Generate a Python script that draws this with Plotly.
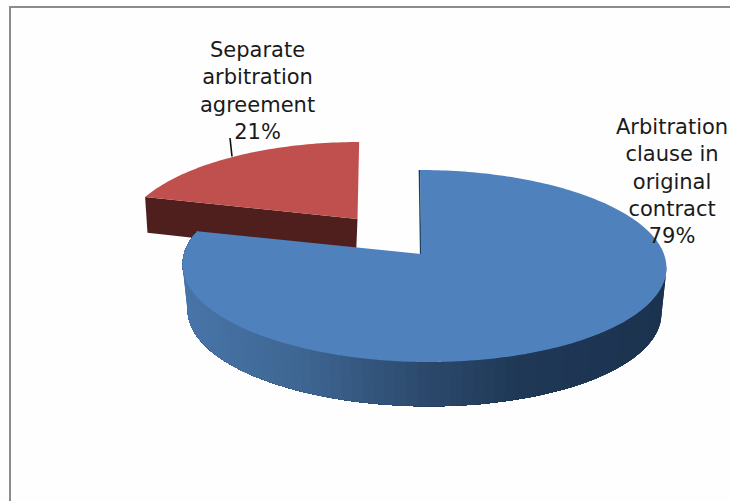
import numpy as np
import plotly.graph_objects as go

categories = ["Arbitration<br>clause in<br>original<br>contract", "Separate<br>arbitration<br>agreement"]
values = [79, 21]

W, H = 730, 501
BLUE, RED, RED_DARK = "#4f81bd", "#c0504d", "#4f1f1d"
share = values[0] / sum(values) * 2 * np.pi


def project(theta, cx, cy, rx, ry, p, a=0.0, b=0.0):
    w = 1 + p * np.cos(theta)
    return cx + a + b * np.cos(theta) / w + rx * np.sin(theta) / w, cy - ry * np.cos(theta) / w


def poly(x, y, color):
    return go.Scatter(x=list(x), y=list(y), mode="none", fill="toself", fillcolor=color,
                      hoverinfo="skip", showlegend=False)


def wall_color(x):
    stops_x = [185, 300, 420, 520, 665]
    r = np.interp(x, stops_x, [72, 62, 44, 31, 28])
    g = np.interp(x, stops_x, [116, 102, 74, 56, 51])
    b = np.interp(x, stops_x, [168, 146, 110, 85, 80])
    return f"rgb({r:.0f},{g:.0f},{b:.0f})"


fig = go.Figure()

# Red slice: detached wedge
t_red = np.linspace(share, 2 * np.pi, 60)
TOP_R = dict(cx=357.5, cy=219, rx=231, ry=92.4, p=0.2, a=0.4, b=1.5)
rx_t, ry_t = project(t_red, **TOP_R)
rx_b, ry_b = project(np.array([share]), 356, 254, 226, 90, 0.2)
fig.add_trace(poly([rx_t[0], rx_b[0], 356, 357.5, rx_t[0]],
                   [ry_t[0], ry_b[0], 256, 219, ry_t[0]], RED_DARK))
fig.add_trace(poly(np.r_[TOP_R["cx"], rx_t, TOP_R["cx"]], np.r_[TOP_R["cy"], ry_t, TOP_R["cy"]], RED))

# Leader line for the red slice
fig.add_trace(go.Scatter(x=[230, 232], y=[138, 156.5], mode="lines",
                         line=dict(color="#111111", width=1.6), hoverinfo="skip", showlegend=False))

# Blue slice: shaded side wall, painted so each band overlaps the next
TOP_B = dict(cx=421, cy=254, rx=240, ry=94.5, p=0.125, a=2.94, b=-4.43)
BOT_B = dict(cx=421, cy=300, rx=235, ry=93, p=0.125, a=2.94, b=-4.43)
edges = np.linspace(np.radians(97), share, 80)
for i in range(len(edges) - 1):
    seg = np.linspace(edges[i], edges[-1], max(2, len(edges) - i))
    xt, yt = project(seg, **TOP_B)
    xb, yb = project(seg, **BOT_B)
    fig.add_trace(poly(np.r_[xt, xb[::-1], xt[0]], np.r_[yt, yb[::-1], yt[0]],
                       wall_color((xt[0] + xt[1]) / 2)))

# Blue slice: sliver of the inner cut face
start_x, start_y = project(np.array([0.0]), **TOP_B)
fig.add_trace(go.Scatter(x=[start_x[0] - 0.6, TOP_B["cx"] - 0.3], y=[start_y[0], TOP_B["cy"] + 2], mode="lines",
                         line=dict(color="#1f3a5a", width=1.5), hoverinfo="skip", showlegend=False))

# Blue slice: top face
t_blue = np.linspace(0, share, 240)
bx, by = project(t_blue, **TOP_B)
fig.add_trace(poly(np.r_[TOP_B["cx"], bx, TOP_B["cx"]], np.r_[TOP_B["cy"], by, TOP_B["cy"]], BLUE))

label_pos = [(672, 181), (257, 91)]
annotations = [
    dict(x=px, y=py, xref="x", yref="y", text=f"{name}<br>{val}%", showarrow=False,
         font=dict(family="DejaVu Sans", size=21, color="#1a1a1a"), align="center")
    for name, val, (px, py) in zip(categories, values, label_pos)
]

fig.update_layout(
    width=W, height=H, margin=dict(l=0, r=0, t=0, b=0),
    paper_bgcolor="#fefefe", plot_bgcolor="#fefefe", showlegend=False,
    xaxis=dict(range=[0, W], visible=False, fixedrange=True),
    yaxis=dict(range=[H, 0], visible=False, fixedrange=True),
    annotations=annotations,
    shapes=[dict(type="path", path=f"M10,{H} L10,7 L{W},7", xref="x", yref="y",
                 line=dict(color="#8c8c8c", width=2))],
)
fig.write_html("out.html", config=dict(displayModeBar=False),
               post_script="document.body.style.margin='0';document.body.style.overflow='hidden';")
